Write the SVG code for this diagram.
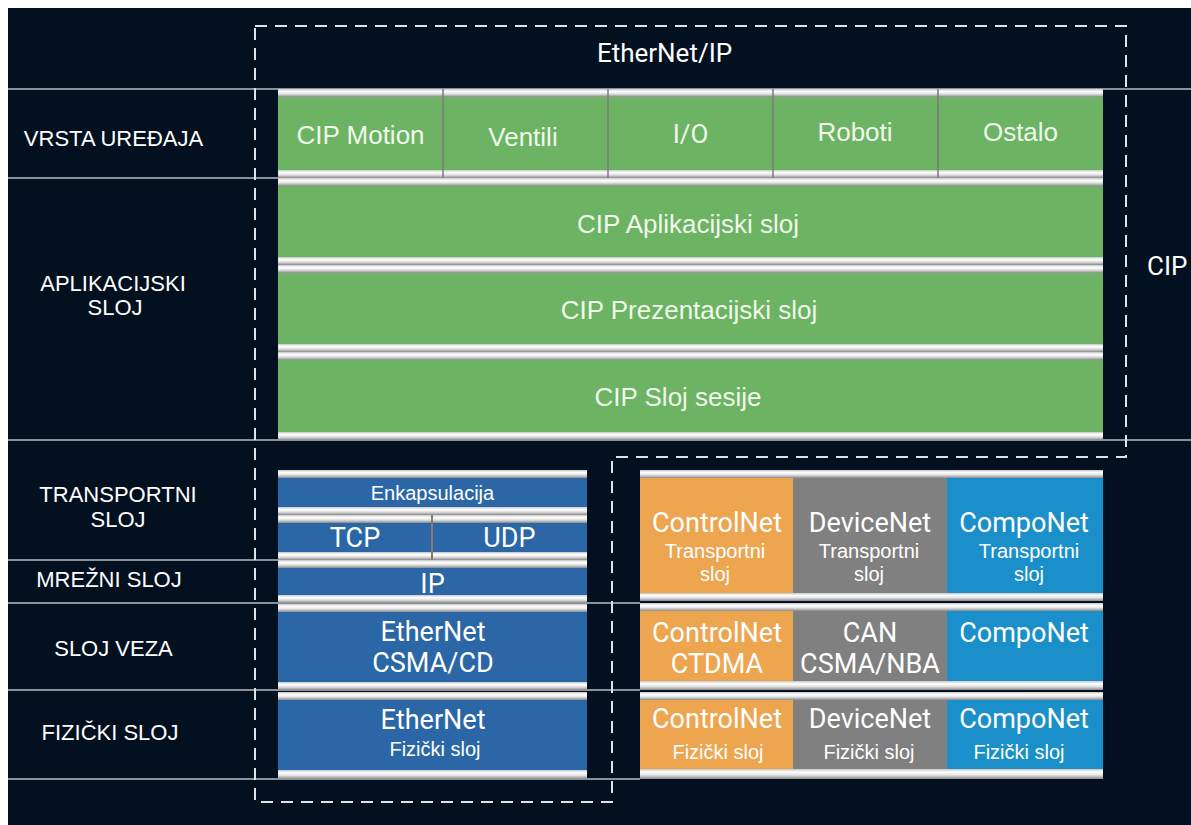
<svg xmlns="http://www.w3.org/2000/svg" width="1191" height="825" viewBox="0 0 1191 825">
<style>
.bg{fill:#03101f}
.bar{fill:url(#barGrad)}
.green{fill:#6cb363}
.lblue{fill:#2b67a6}
.orange{fill:#eda550}
.grey{fill:#808080}
.cyan{fill:#1a8fca}
.grid{stroke:#8a9099;stroke-width:2;fill:none}
.dash{stroke:#dfe3e8;stroke-width:2;fill:none;stroke-dasharray:12 8}
.div{stroke:#7a7a7a;stroke-width:1.5}
.a{font-family:"Liberation Sans",Arial,sans-serif;fill:#ffffff;text-anchor:middle}
.r{font-family:Roboto,"Liberation Sans",sans-serif;fill:#ffffff;text-anchor:middle}
.lab{font-size:22px}
.g26{font-size:26px;fill:#f0f8ec}
.s20{font-size:20px}
.d27{font-size:27px}
</style>
<defs>
<linearGradient id="barGrad" x1="0" y1="0" x2="0" y2="1">
<stop offset="0" stop-color="#c4c6c8"/>
<stop offset="0.3" stop-color="#ffffff"/>
<stop offset="0.6" stop-color="#e4e4e4"/>
<stop offset="1" stop-color="#8a8a8a"/>
</linearGradient>
</defs>
<rect x="0" y="0" width="1191" height="825" fill="#ffffff"/>
<rect class="bg" x="8" y="8" width="1183" height="817"/>

<g id="connectors">
<line class="grid" x1="8" y1="89" x2="1191" y2="89"/>
<line class="grid" x1="8" y1="178" x2="280" y2="178"/>
<line class="grid" x1="8" y1="440" x2="1191" y2="440"/>
<line class="grid" x1="8" y1="560" x2="587" y2="560"/>
<line class="grid" x1="8" y1="603" x2="640" y2="603"/>
<line class="grid" x1="8" y1="690" x2="640" y2="690"/>
<line class="grid" x1="8" y1="779" x2="640" y2="779"/>
<path class="dash" d="M255,26 H1126 V457 H612 V802 H255 Z"/>
</g>

<g id="labels">
<text class="a lab" x="113.5" y="146">VRSTA UREĐAJA</text>
<text class="a lab" x="113" y="291">APLIKACIJSKI</text>
<text class="a lab" x="115" y="315">SLOJ</text>
<text class="a lab" x="118" y="502">TRANSPORTNI</text>
<text class="a lab" x="118" y="527">SLOJ</text>
<text class="a lab" x="109" y="587">MREŽNI SLOJ</text>
<text class="a lab" x="113.5" y="656">SLOJ VEZA</text>
<text class="a lab" x="110" y="740">FIZIČKI SLOJ</text>
<text class="r" x="664.5" y="62" style="font-size:26px">EtherNet/IP</text>
<text class="r" x="1147" y="275" style="font-size:26px;text-anchor:start">CIP</text>
</g>

<g id="device-types">
<rect class="bar" x="278" y="89" width="825" height="8"/>
<rect class="green" x="278" y="97" width="825" height="73"/>
<rect class="bar" x="278" y="170" width="825" height="8"/>
<line class="div" x1="443" y1="89" x2="443" y2="178"/>
<line class="div" x1="608" y1="89" x2="608" y2="178"/>
<line class="div" x1="773" y1="89" x2="773" y2="178"/>
<line class="div" x1="938" y1="89" x2="938" y2="178"/>
<text class="a g26" x="360.5" y="144">CIP Motion</text>
<text class="a g26" x="523" y="146">Ventili</text>
<text class="r g26" x="690.5" y="143">I/O</text>
<text class="a g26" x="855" y="141">Roboti</text>
<text class="a g26" x="1020.5" y="141">Ostalo</text>
</g>

<g id="cip-application">
<rect class="bar" x="278" y="178" width="825" height="8"/>
<rect class="green" x="278" y="186" width="825" height="71"/>
<rect class="bar" x="278" y="257" width="825" height="8"/>
<text class="a g26" x="688" y="233">CIP Aplikacijski sloj</text>
</g>

<g id="cip-presentation">
<rect class="bar" x="278" y="265" width="825" height="8"/>
<rect class="green" x="278" y="273" width="825" height="71"/>
<rect class="bar" x="278" y="344" width="825" height="8"/>
<text class="a g26" x="689" y="319">CIP Prezentacijski sloj</text>
</g>

<g id="cip-session">
<rect class="bar" x="278" y="352" width="825" height="8"/>
<rect class="green" x="278" y="360" width="825" height="72"/>
<rect class="bar" x="278" y="432" width="825" height="8"/>
<text class="a g26" x="678" y="406">CIP Sloj sesije</text>
</g>

<g id="encapsulation">
<rect class="bar" x="278" y="470" width="309" height="8"/>
<rect class="lblue" x="278" y="478" width="309" height="29"/>
<rect class="bar" x="278" y="507" width="309" height="8"/>
<text class="a s20" x="432.5" y="500">Enkapsulacija</text>
</g>

<g id="tcp-udp">
<rect class="bar" x="278" y="515" width="309" height="8"/>
<rect class="lblue" x="278" y="523" width="309" height="29"/>
<rect class="bar" x="278" y="552" width="309" height="8"/>
<line x1="432" y1="515" x2="432" y2="560" stroke="#8a7a6a" stroke-width="2"/>
<text class="r d27" x="355" y="547">TCP</text>
<text class="r d27" x="509.5" y="547">UDP</text>
</g>

<g id="ip">
<rect class="bar" x="278" y="560" width="309" height="8"/>
<rect class="lblue" x="278" y="568" width="309" height="27"/>
<rect class="bar" x="278" y="595" width="309" height="8"/>
<text class="r d27" x="432.5" y="593">IP</text>
</g>

<g id="ethernet-link">
<rect class="bar" x="278" y="604" width="309" height="8"/>
<rect class="lblue" x="278" y="612" width="309" height="70"/>
<rect class="bar" x="278" y="682" width="309" height="8"/>
<text class="r d27" x="433" y="641">EtherNet</text>
<text class="r d27" x="433" y="672">CSMA/CD</text>
</g>

<g id="ethernet-phys">
<rect class="bar" x="278" y="692" width="309" height="8"/>
<rect class="lblue" x="278" y="700" width="309" height="70"/>
<rect class="bar" x="278" y="770" width="309" height="9"/>
<text class="r d27" x="433" y="729">EtherNet</text>
<text class="a s20" x="435" y="756">Fizički sloj</text>
</g>

<g id="other-transport">
<rect class="bar" x="640" y="470" width="463" height="8"/>
<rect class="orange" x="640" y="478" width="153" height="115"/>
<rect class="grey" x="793" y="478" width="154" height="115"/>
<rect class="cyan" x="947" y="478" width="156" height="115"/>
<rect class="bar" x="640" y="593" width="463" height="8"/>
<text class="r d27" x="717" y="532">ControlNet</text>
<text class="a s20" x="715" y="558">Transportni</text>
<text class="a s20" x="715" y="581">sloj</text>
<text class="r d27" x="870" y="532">DeviceNet</text>
<text class="a s20" x="869" y="558">Transportni</text>
<text class="a s20" x="869" y="581">sloj</text>
<text class="r d27" x="1024" y="532">CompoNet</text>
<text class="a s20" x="1029" y="558">Transportni</text>
<text class="a s20" x="1029" y="581">sloj</text>
</g>

<g id="other-link">
<rect class="bar" x="640" y="603" width="463" height="8"/>
<rect class="orange" x="640" y="611" width="153" height="70"/>
<rect class="grey" x="793" y="611" width="154" height="70"/>
<rect class="cyan" x="947" y="611" width="156" height="70"/>
<rect class="bar" x="640" y="681" width="463" height="9"/>
<text class="r d27" x="717" y="642">ControlNet</text>
<text class="r d27" x="717" y="673">CTDMA</text>
<text class="r d27" x="870" y="642">CAN</text>
<text class="r d27" x="870" y="673">CSMA/NBA</text>
<text class="r d27" x="1024" y="642">CompoNet</text>
</g>

<g id="other-phys">
<rect class="bar" x="640" y="692" width="463" height="8"/>
<rect class="orange" x="640" y="700" width="153" height="69"/>
<rect class="grey" x="793" y="700" width="154" height="69"/>
<rect class="cyan" x="947" y="700" width="156" height="69"/>
<rect class="bar" x="640" y="769" width="463" height="10"/>
<text class="r d27" x="717" y="728">ControlNet</text>
<text class="a s20" x="718" y="759">Fizički sloj</text>
<text class="r d27" x="870" y="728">DeviceNet</text>
<text class="a s20" x="869" y="759">Fizički sloj</text>
<text class="r d27" x="1024" y="728">CompoNet</text>
<text class="a s20" x="1019" y="759">Fizički sloj</text>
</g>
</svg>
